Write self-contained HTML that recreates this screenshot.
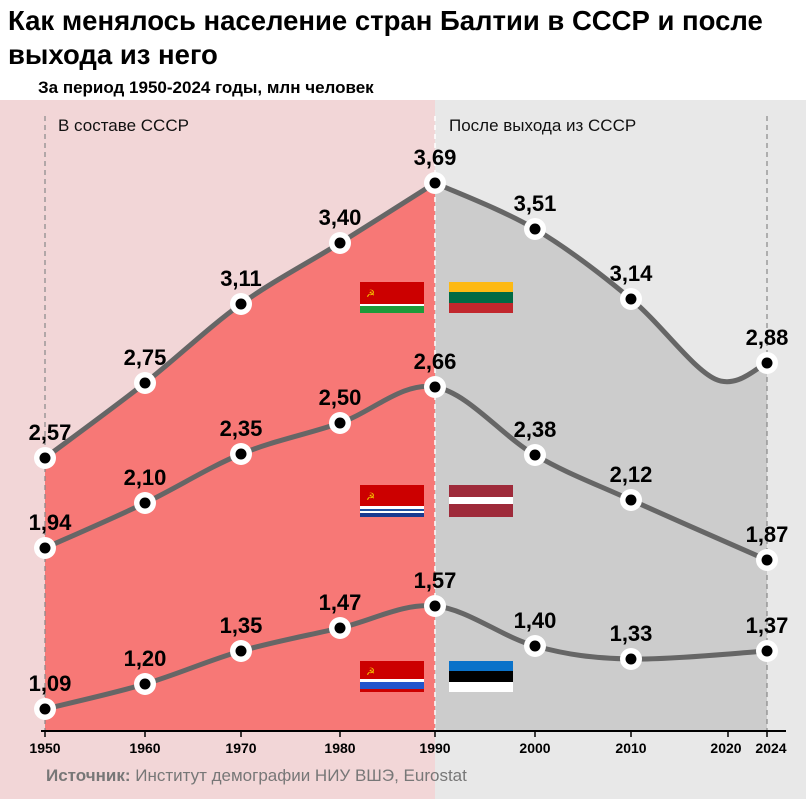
<!DOCTYPE html>
<html><head><meta charset="utf-8"><style>
body{margin:0;width:806px;height:799px;background:#fff;font-family:"Liberation Sans","DejaVu Sans",sans-serif;overflow:hidden}
</style></head><body>
<svg width="806" height="799" xmlns="http://www.w3.org/2000/svg" font-family="Liberation Sans, DejaVu Sans, sans-serif">
<rect x="0" y="100" width="435" height="699" fill="#f2d6d7"/>
<rect x="435" y="100" width="371" height="699" fill="#e8e8e8"/>
<text x="8" y="30" font-size="27.5" font-weight="bold" fill="#000">Как менялось население стран Балтии в СССР и после</text>
<text x="8" y="64" font-size="27.5" font-weight="bold" fill="#000">выхода из него</text>
<text x="38" y="93" font-size="17" font-weight="bold" fill="#000">За период 1950-2024 годы, млн человек</text>
<g id="fills"></g>
<g id="grid">
<line x1="45" y1="116" x2="45" y2="731" stroke="#888" stroke-dasharray="5,4" stroke-width="1.2"/>
<line x1="435" y1="116" x2="435" y2="731" stroke="#fff" stroke-dasharray="5,4" stroke-width="1.5"/>
<line x1="767" y1="116" x2="767" y2="731" stroke="#888" stroke-dasharray="5,4" stroke-width="1.2"/>
</g>
<text x="58" y="131" font-size="17" fill="#111">В составе СССР</text>
<text x="449" y="131" font-size="17" fill="#111">После выхода из СССР</text>
<g id="lines"></g>
<g>
<rect x="360" y="282" width="64" height="22" fill="#cc0000"/><rect x="360" y="304" width="64" height="2" fill="#fff"/><rect x="360" y="306" width="64" height="7" fill="#1e9b3a"/>
<text x="366" y="297" font-size="10" fill="#f5c400">☭</text>
<rect x="449" y="282" width="64" height="10" fill="#fdb913"/><rect x="449" y="292" width="64" height="11" fill="#006a44"/><rect x="449" y="303" width="64" height="10" fill="#c1272d"/>
<rect x="360" y="485" width="64" height="21" fill="#cc0000"/><rect x="360" y="506" width="64" height="8" fill="#fff"/><rect x="360" y="509" width="64" height="2" fill="#2050a0"/><rect x="360" y="513" width="64" height="4" fill="#1a3a90"/>
<text x="366" y="500" font-size="10" fill="#f5c400">☭</text>
<rect x="449" y="485" width="64" height="12" fill="#9e2a3a"/><rect x="449" y="497" width="64" height="7" fill="#fff"/><rect x="449" y="504" width="64" height="13" fill="#9e2a3a"/>
<rect x="360" y="661" width="64" height="18" fill="#cc0000"/><rect x="360" y="679" width="64" height="3" fill="#fff"/><rect x="360" y="682" width="64" height="7" fill="#2255cc"/><rect x="360" y="689" width="64" height="3" fill="#cc0000"/>
<text x="366" y="675" font-size="10" fill="#f5c400">☭</text>
<rect x="449" y="661" width="64" height="10" fill="#0a72c9"/><rect x="449" y="671" width="64" height="11" fill="#000"/><rect x="449" y="682" width="64" height="10" fill="#fff"/>
</g>
<line x1="41" y1="731" x2="786" y2="731" stroke="#000" stroke-width="2"/>
<g font-size="14" font-weight="bold" text-anchor="middle" fill="#000">
<g stroke="#000" stroke-width="1.5">
<line x1="45" y1="731" x2="45" y2="737"/><line x1="145" y1="731" x2="145" y2="737"/><line x1="241" y1="731" x2="241" y2="737"/><line x1="340" y1="731" x2="340" y2="737"/><line x1="435" y1="731" x2="435" y2="737"/><line x1="535" y1="731" x2="535" y2="737"/><line x1="631" y1="731" x2="631" y2="737"/><line x1="728" y1="731" x2="728" y2="737"/><line x1="767" y1="731" x2="767" y2="737"/>
</g>
<text x="45" y="753">1950</text><text x="145" y="753">1960</text><text x="241" y="753">1970</text><text x="340" y="753">1980</text><text x="435" y="753">1990</text><text x="535" y="753">2000</text><text x="631" y="753">2010</text><text x="726" y="753">2020</text><text x="771" y="753">2024</text>
</g>
<text x="46" y="781" font-size="17" fill="#777"><tspan font-weight="bold">Источник:</tspan> Институт демографии НИУ ВШЭ, Eurostat</text>
<g id="marks"></g>
<g id="labels" font-size="22" font-weight="bold" text-anchor="middle" fill="#000"></g>
</svg>
<script>
const NS="http://www.w3.org/2000/svg";
const X=[45,145,241,340,435,535,631,767];
const series=[
 {y:[458,383,304,243,183,229,299,363],l:["2,57","2,75","3,11","3,40","3,69","3,51","3,14","2,88"],extra:true},
 {y:[548,503,454,423,387,455,500,560],l:["1,94","2,10","2,35","2,50","2,66","2,38","2,12","1,87"]},
 {y:[709,684,651,628,606,646,659,651],l:["1,09","1,20","1,35","1,47","1,57","1,40","1,33","1,37"]}
];
function cr(pts){let d=`M${pts[0][0]},${pts[0][1]}`;for(let i=0;i<pts.length-1;i++){const p0=pts[i-1]||pts[i],p1=pts[i],p2=pts[i+1],p3=pts[i+2]||p2;const c1=[p1[0]+(p2[0]-p0[0])/6,p1[1]+(p2[1]-p0[1])/6],c2=[p2[0]-(p3[0]-p1[0])/6,p2[1]-(p3[1]-p1[1])/6];d+=` C${c1[0]},${c1[1]} ${c2[0]},${c2[1]} ${p2[0]},${p2[1]}`;}return d;}
function el(t,a,p){const e=document.createElementNS(NS,t);for(const k in a)e.setAttribute(k,a[k]);document.getElementById(p).appendChild(e);return e;}
const lt=series[0];
const left=[];for(let i=0;i<5;i++)left.push([X[i],lt.y[i]]);
const right=[[435,183],[535,229],[631,299],[715,379],[767,363]];
el("path",{d:cr(left)+" L435,731 L45,731 Z",fill:"#f77876"},"fills");
el("path",{d:cr(right)+" L767,731 L435,731 Z",fill:"#cccccc"},"fills");
series.forEach((s,si)=>{
 let pts=X.map((x,i)=>[x,s.y[i]]);
 if(s.extra){el("path",{d:cr(left),fill:"none",stroke:"#666",'stroke-width':5},"lines");el("path",{d:cr(right),fill:"none",stroke:"#666",'stroke-width':5},"lines");}
 else el("path",{d:cr(pts),fill:"none",stroke:"#666",'stroke-width':5},"lines");
 pts.forEach((p,i)=>{el("circle",{cx:p[0],cy:p[1],r:11,fill:"#fff"},"marks");el("circle",{cx:p[0],cy:p[1],r:5.5,fill:"#000"},"marks");
 const t=el("text",{x:p[0]+(i==0?5:0),y:p[1]-18},"labels");t.textContent=s.l[i];});
});
</script>
</body></html>
